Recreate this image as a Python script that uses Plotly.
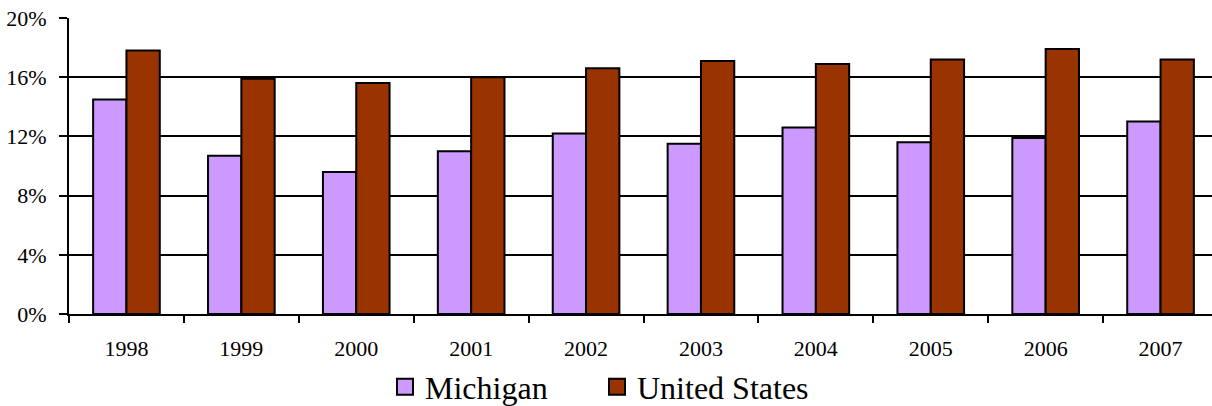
import plotly.graph_objects as go

years = ["1998", "1999", "2000", "2001", "2002", "2003", "2004", "2005", "2006", "2007"]
michigan = [14.5, 10.7, 9.6, 11.0, 12.2, 11.5, 12.6, 11.6, 11.9, 13.0]
united_states = [17.8, 15.9, 15.6, 16.0, 16.6, 17.1, 16.9, 17.2, 17.9, 17.2]
series_names = ["Michigan", "United States"]
colors = ["#CC99FF", "#993300"]

FONT = "Liberation Serif, Times New Roman, serif"
W, H = 1218, 406

fig = go.Figure()
for name, vals, col in zip(series_names, [michigan, united_states], colors):
    fig.add_trace(go.Bar(x=years, y=vals, name=name, showlegend=False,
                         marker=dict(color=col, line=dict(color="black", width=2))))
# legend swatches (larger squares), one legend per series
legend_ids = ["legend", "legend2"]
for name, col, lid in zip(series_names, colors, legend_ids):
    fig.add_trace(go.Scatter(x=[None], y=[None], mode="markers", name=name, legend=lid,
                             marker=dict(symbol="square", size=16, color=col,
                                         line=dict(color="black", width=2))))

legend_style = dict(orientation="h", xref="container", yref="container", xanchor="left",
                    yanchor="middle", y=19 / H, font=dict(size=32, family=FONT),
                    bgcolor="rgba(0,0,0,0)")

fig.update_layout(
    width=W, height=H,
    margin=dict(l=69, r=0, t=18, b=92, autoexpand=False),
    paper_bgcolor="white", plot_bgcolor="white",
    barmode="group", bargap=0.42, bargroupgap=0,
    font=dict(family=FONT, size=22, color="black"),
    legend=dict(x=385 / W, **legend_style),
    legend2=dict(x=597 / W, **legend_style),
    modebar=dict(bgcolor="rgba(0,0,0,0)", color="rgba(0,0,0,0)",
                 activecolor="rgba(0,0,0,0)"),
)
fig.update_xaxes(type="category", showline=True, linecolor="black", linewidth=2,
                 ticks="outside", tickson="boundaries", ticklen=7, tickwidth=2, tickcolor="black",
                 showgrid=False, ticklabelstandoff=14, tickfont=dict(size=22, family=FONT),
                 automargin=False)
fig.update_yaxes(range=[0, 20], dtick=4, ticksuffix="%", showline=True, linecolor="black",
                 linewidth=2, ticks="outside", ticklen=8, tickwidth=2, tickcolor="black",
                 showgrid=True, gridcolor="black", gridwidth=2, zeroline=False,
                 ticklabelstandoff=8, tickfont=dict(size=22, family=FONT), automargin=False)

fig.write_html("out.html", config={"displaylogo": False},
               post_script="document.body.style.margin='0';document.body.style.overflow='hidden';")
